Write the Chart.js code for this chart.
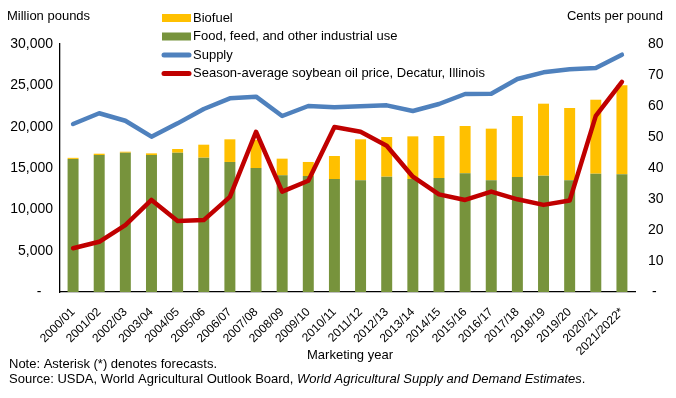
<!DOCTYPE html>
<html>
<head>
<meta charset="utf-8">
<script src="https://cdn.jsdelivr.net/npm/chart.js@4"></script>
<style>
  body { margin: 0; background: #fff; }
  canvas { display: block; }
</style>
</head>
<body>
<canvas id="soyOilChart" width="676" height="398"></canvas>
<script>
// Soybean oil: domestic use, supply and price
const years = ['2000/01', '2001/02', '2002/03', '2003/04', '2004/05', '2005/06', '2006/07', '2007/08',
    '2008/09', '2009/10', '2010/11', '2011/12', '2012/13', '2013/14', '2014/15', '2015/16',
    '2016/17', '2017/18', '2018/19', '2019/20', '2020/21', '2021/2022*'];
const foodUse = [16100, 16570, 16850, 16570, 16850, 16250, 15730, 15000, 14110, 14030, 13670,
    13510, 13950, 13670, 13790, 14360, 13510, 13910, 14070, 13510, 14310, 14240];
const biofuelUse = [130, 160, 120, 200, 450, 1570, 2740, 3400, 2020, 1700, 2780,
    4960, 4800, 5160, 5080, 5720, 6250, 7380, 8710, 8750, 8950, 10760];
const supply = [20320, 21620, 20720, 18790, 20400, 22140, 23430, 23630, 21290, 22500, 22340,
    22460, 22580, 21900, 22740, 23950, 23990, 25770, 26570, 26940, 27100, 28710];
const oilPrice = [14.1, 16.2, 21.6, 29.7, 22.9, 23.2, 30.7, 51.7, 32.4, 35.9, 53.2,
    51.7, 47.2, 37.2, 31.5, 29.7, 32.4, 29.9, 28.1, 29.5, 56.8, 67.8];
const poundsTicks = [0, 5000, 10000, 15000, 20000, 25000, 30000];
const centsTicks = [0, 10, 20, 30, 40, 50, 60, 70, 80];

const FONT = "'Liberation Sans', Arial, sans-serif";

// titles, legend and notes drawn on the canvas
const extraText = {
    id: 'extraText',
    afterDraw(chart) {
        const ctx = chart.ctx;
        ctx.save();
        ctx.fillStyle = '#000';
        ctx.font = '13px ' + FONT;
        ctx.textBaseline = 'middle';
        ctx.textAlign = 'left';
        ctx.fillText('Million pounds', 7, 16);
        ctx.textAlign = 'right';
        ctx.fillText('Cents per pound', 663, 16);

        // legend
        const order = [3, 2, 1, 0];
        order.forEach(function (idx, row) {
            const ds = chart.data.datasets[idx];
            const cy = 18 + row * 18.5;
            if (ds.type === 'line') {
                ctx.strokeStyle = ds.borderColor;
                ctx.lineWidth = 5;
                ctx.lineCap = 'round';
                ctx.beginPath();
                ctx.moveTo(164, cy);
                ctx.lineTo(189, cy);
                ctx.stroke();
            } else {
                ctx.fillStyle = ds.backgroundColor;
                ctx.fillRect(162, cy - 4, 29, 8);
            }
            ctx.fillStyle = '#000';
            ctx.textAlign = 'left';
            ctx.fillText(ds.label, 193, cy);
        });

        ctx.textAlign = 'center';
        ctx.fillText('Marketing year', 350, 355);

        ctx.textAlign = 'left';
        ctx.fillText('Note: Asterisk (*) denotes forecasts.', 9, 364);
        let x = 9;
        const part1 = 'Source: USDA, World Agricultural Outlook Board, ';
        ctx.fillText(part1, x, 379);
        x += ctx.measureText(part1).width;
        ctx.font = 'italic 13px ' + FONT;
        const part2 = 'World Agricultural Supply and Demand Estimates';
        ctx.fillText(part2, x, 379);
        x += ctx.measureText(part2).width;
        ctx.font = '13px ' + FONT;
        ctx.fillText('.', x, 379);
        ctx.restore();
    }
};

const ctxSoy = document.getElementById('soyOilChart').getContext('2d');
const soyOilChart = new Chart(ctxSoy, {
    data: {
        labels: years,
        datasets: [
            {
                type: 'line',
                label: 'Season-average soybean oil price, Decatur, Illinois',
                data: oilPrice,
                yAxisID: 'y1',
                stack: 'price',
                borderColor: '#C00000',
                borderWidth: 4.5,
                pointRadius: 0,
                tension: 0,
                borderCapStyle: 'round',
                borderJoinStyle: 'round'
            },
            {
                type: 'line',
                label: 'Supply',
                data: supply,
                yAxisID: 'y',
                stack: 'supply',
                borderColor: '#4F81BD',
                borderWidth: 4.5,
                pointRadius: 0,
                tension: 0,
                borderCapStyle: 'round',
                borderJoinStyle: 'round'
            },
            {
                type: 'bar',
                label: 'Food, feed, and other industrial use',
                data: foodUse,
                yAxisID: 'y',
                stack: 'use',
                backgroundColor: '#77933C',
                barPercentage: 0.42,
                categoryPercentage: 1
            },
            {
                type: 'bar',
                label: 'Biofuel',
                data: biofuelUse,
                yAxisID: 'y',
                stack: 'use',
                backgroundColor: '#FFC000',
                barPercentage: 0.42,
                categoryPercentage: 1
            }
        ]
    },
    options: {
        responsive: false,
        animation: false,
        layout: {
            padding: { top: 44, left: 0, right: 0, bottom: 0 }
        },
        plugins: {
            legend: { display: false },
            tooltip: { enabled: false }
        },
        scales: {
            x: {
                stacked: true,
                grid: { display: false, drawTicks: false },
                border: { display: true, color: '#000', width: 1.3 },
                ticks: {
                    autoSkip: false,
                    minRotation: 45,
                    maxRotation: 45,
                    padding: 13,
                    color: '#000',
                    font: { family: FONT, size: 12 }
                },
                afterFit: function (scale) { scale.height = 106; }
            },
            y: {
                stacked: true,
                position: 'left',
                min: 0,
                max: 30000,
                grid: { display: false, drawTicks: false },
                border: { display: true, color: '#000', width: 1.3 },
                afterBuildTicks: function (scale) {
                    scale.ticks = poundsTicks.map(v => ({ value: v }));
                },
                ticks: {
                    padding: 7,
                    color: '#000',
                    font: { family: FONT, size: 14 },
                    callback: function (value) {
                        return value === 0 ? '-   ' : value.toLocaleString('en-US');
                    }
                },
                afterFit: function (scale) { scale.width = 60; }
            },
            y1: {
                position: 'right',
                min: 0,
                max: 80,
                grid: { display: false, drawTicks: false },
                border: { display: false },
                afterBuildTicks: function (scale) {
                    scale.ticks = centsTicks.map(v => ({ value: v }));
                },
                ticks: {
                    padding: 13,
                    color: '#000',
                    font: { family: FONT, size: 14 },
                    callback: function (value) {
                        return value === 0 ? ' -' : String(value);
                    }
                },
                afterFit: function (scale) { scale.width = 41; }
            }
        }
    },
    plugins: [extraText]
});
</script>
</body>
</html>
